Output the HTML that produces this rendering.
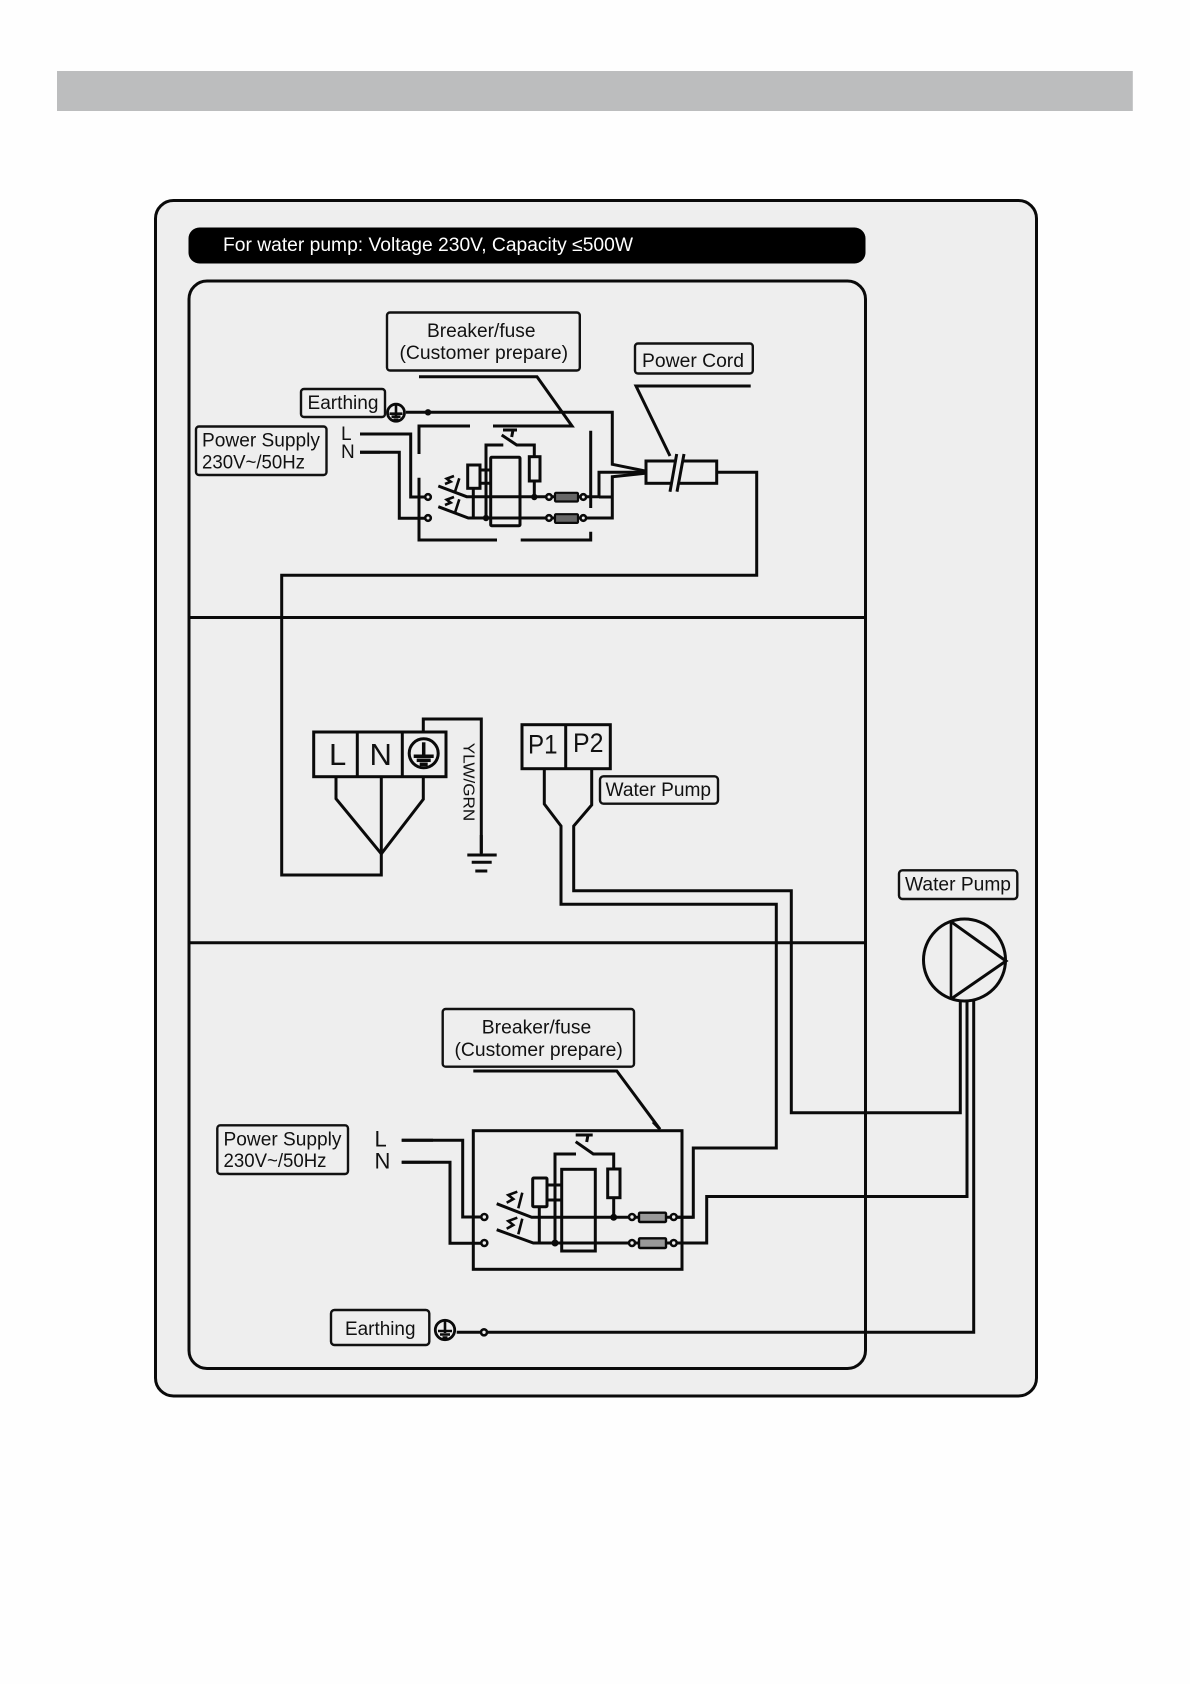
<!DOCTYPE html>
<html><head><meta charset="utf-8"><style>
html,body{margin:0;padding:0;background:#fefefe}
svg{display:block}
text{font-family:"Liberation Sans",sans-serif;font-size:19px;fill:#111}
.w{fill:none;stroke:#0a0a0a;stroke-width:3;stroke-linejoin:miter}
.t{fill:none;stroke:#0a0a0a;stroke-width:2.6}
.b{fill:none;stroke:#111;stroke-width:2.4}
.h{fill:#eee;stroke:#0a0a0a;stroke-width:2.6}
.d{fill:#0a0a0a}
</style></head><body>
<svg width="1190" height="1684" viewBox="0 0 1190 1684" xmlns="http://www.w3.org/2000/svg">
<rect x="57" y="71" width="1075.800" height="40" fill="#bcbdbe"/>
<rect x="155.5" y="200.5" width="881" height="1195.5" rx="18" fill="#eee" stroke="#0a0a0a" stroke-width="3"/>
<rect x="188.5" y="227.5" width="677" height="36" rx="11" fill="#000"/>
<text x="223" y="251" textLength="410" lengthAdjust="spacingAndGlyphs" style="fill:#fff">For water pump: Voltage 230V, Capacity ≤500W</text>
<rect x="189" y="281" width="676.5" height="1087.5" rx="18" fill="none" stroke="#0a0a0a" stroke-width="3"/>
<path d="M189 617.500H865.500M189 942.800H865.500" class="w"/>

<!-- top section labels -->
<rect x="387" y="312.500" width="192.800" height="58" rx="3" class="b"/>
<text x="427" y="337" textLength="108.5" lengthAdjust="spacingAndGlyphs">Breaker/fuse</text>
<text x="399.500" y="359" textLength="168.500" lengthAdjust="spacingAndGlyphs">(Customer prepare)</text>
<rect x="635" y="343.500" width="117.800" height="30" rx="3" class="b"/>
<text x="642" y="367" textLength="102" lengthAdjust="spacingAndGlyphs">Power Cord</text>
<rect x="301" y="389" width="84" height="28" rx="3" class="b"/>
<text x="307.500" y="409" textLength="71" lengthAdjust="spacingAndGlyphs">Earthing</text>
<rect x="196" y="426.5" width="130.500" height="48.500" rx="3" class="b"/>
<text x="202" y="446.5" textLength="118" lengthAdjust="spacingAndGlyphs">Power Supply</text>
<text x="202" y="468.500" textLength="103" lengthAdjust="spacingAndGlyphs">230V~/50Hz</text>
<text x="341" y="440">L</text>
<text x="341" y="458">N</text>

<!-- top earth -->
<g transform="translate(396,412.700)">
<circle r="8.500" fill="none" stroke="#0a0a0a" stroke-width="2.800"/>
<path d="M0 -8V3M-6.500 1H6.500M-4.500 4H4.500M-2.500 7H2.500" class="t" stroke-width="2"/>
</g>
<path d="M406 412.300H612.300V464.300L645 471M599 497H612" class="w" stroke-width="2.800"/>
<circle cx="428" cy="412.300" r="3.200" class="d"/>

<!-- top dashed breaker -->
<path d="M419 376.700H537L572 426H493M470 426H419V454M419 477.700V540H497M520.700 540H590.700V531.700M590.700 430.700V508" class="w"/>
<path d="M360 434H410.700V497H428M360 452.300H399.300V518.300H428" class="w"/>
<path d="M360 434H385M360 452.300H380" class="w" stroke-width="4"/>

<!-- top internals -->
<path d="M438.300 486L466.700 496.700H599V472.300H645" class="w"/>
<path d="M438.300 506.700L468.300 518H612.300V476.700L645 473.300" class="w"/>
<path d="M454 476L446.700 478.700L450.700 481.700L445 484M459.300 478.300L455 491.700" class="t"/>
<path d="M454 497L446.700 499.700L450.700 502.700L445 505M459.300 499.300L455 512.700" class="t"/>
<rect x="467.700" y="465" width="12.300" height="23.300" class="w"/>
<path d="M480 470H490.700M480 483.300H490.700M473.300 488.300V518" class="w"/>
<path d="M486 518V445H503.300M501.700 435L516.700 445H534.300V456.700M503 430H517M513 430L511.700 437" class="w"/>
<rect x="490.700" y="457.300" width="29.300" height="68.400" rx="1" class="w"/>
<rect x="529.300" y="456.700" width="10.700" height="24.300" class="w"/>
<path d="M534.300 481V497" class="w"/>
<circle cx="534.300" cy="497" r="3.200" class="d"/>
<circle cx="486" cy="518" r="3.200" class="d"/>
<rect x="555" y="492.800" width="23" height="8.700" rx="1" fill="#666" stroke="#0a0a0a" stroke-width="2.200"/>
<rect x="555" y="514.200" width="23" height="8.700" rx="1" fill="#666" stroke="#0a0a0a" stroke-width="2.200"/>
<g class="h">
<circle cx="428" cy="497" r="2.800"/><circle cx="428" cy="518" r="2.800"/>
<circle cx="549" cy="497" r="2.800"/><circle cx="549" cy="518" r="2.800"/>
<circle cx="583.300" cy="497" r="2.800"/><circle cx="583.300" cy="518" r="2.800"/>
</g>

<!-- power cord -->
<path d="M750.700 386H636L670 456" class="w" stroke-width="2.800"/>
<rect x="646" y="461" width="70.700" height="22.300" class="w"/>
<path d="M671 491.700L678 454H684.500L677.500 491.700Z" fill="#eee"/>
<path d="M670 491.700L676.700 454M677 491.700L684 454" class="w"/>
<path d="M716.700 472.300H756.700V575.300H281.700V875H381.300V776" class="w"/>

<!-- middle -->
<rect x="313.700" y="732" width="132.300" height="44.700" class="w"/>
<path d="M357.300 732V776.700M402.300 732V776.700" class="w"/>
<text x="329" y="765" style="font-size:31px">L</text>
<text x="369.500" y="765" style="font-size:31px">N</text>
<g transform="translate(423.700,753.300)">
<circle r="14.500" fill="none" stroke="#0a0a0a" stroke-width="3"/>
<path d="M0 -11V4" stroke="#0a0a0a" stroke-width="3.500"/>
<path d="M-10 3H10" stroke="#0a0a0a" stroke-width="3.500"/>
<path d="M-7 7H7" stroke="#0a0a0a" stroke-width="3.500"/>
<path d="M-4 11H4" stroke="#0a0a0a" stroke-width="3.500"/>
</g>
<path d="M336 776.700V798.700L381.300 853.800M423.300 776.700V799.300L381.300 853.800" class="w"/>
<path d="M423.300 732V719H481.300V853" class="w" stroke-width="2.400"/>
<path d="M481.300 835V855" class="w" stroke-width="5"/>
<path d="M467.300 855H496.700M471.700 862.300H491.700M475.300 871H487.300" class="w" stroke-width="4"/>
<text transform="translate(463.500,742.700) rotate(90)" textLength="78.500" lengthAdjust="spacingAndGlyphs" style="font-size:16px">YLW/GRN</text>

<rect x="522" y="724.700" width="88.300" height="44" class="w"/>
<path d="M565.700 724.700V768.700" class="w"/>
<text x="528" y="753.500" textLength="29.500" lengthAdjust="spacingAndGlyphs" style="font-size:27px">P1</text>
<text x="573" y="752" textLength="30.500" lengthAdjust="spacingAndGlyphs" style="font-size:27px">P2</text>
<path d="M544.300 768.700V804L561 826V904.300H776.300V1148H693.300V1217.300H673" class="w"/>
<path d="M591.700 768.700V805L573.700 826V890.700H791.300V1112.800H960.300V1001" class="w"/>
<rect x="600" y="776.300" width="118" height="27.400" rx="3.500" class="b"/>
<text x="605.500" y="796" textLength="105.500" lengthAdjust="spacingAndGlyphs">Water Pump</text>

<!-- pump -->
<rect x="899" y="870.300" width="118.300" height="28.700" rx="3.500" class="b"/>
<text x="905" y="890.700" textLength="106" lengthAdjust="spacingAndGlyphs">Water Pump</text>
<circle cx="964.500" cy="960" r="41" fill="none" stroke="#0a0a0a" stroke-width="3"/>
<path d="M951 999L1006 961L951 921.700" class="w"/>
<path d="M951 921.700V999" class="t"/>
<path d="M967 1001V1196.500H706.700V1243H673" class="w"/>
<path d="M973.700 1001V1332.300H456.700" class="w"/>

<!-- bottom section -->
<rect x="442.700" y="1009" width="191.300" height="57.700" rx="3" class="b"/>
<text x="481.800" y="1033.500" textLength="109.500" lengthAdjust="spacingAndGlyphs">Breaker/fuse</text>
<text x="454.500" y="1056" textLength="168.300" lengthAdjust="spacingAndGlyphs">(Customer prepare)</text>
<path d="M473.300 1071H616.800L660 1129.300" class="w"/>
<path d="M653 1122L660 1129.300" class="w" stroke-width="4.500"/>
<rect x="217.300" y="1125.300" width="130.700" height="48.700" rx="3" class="b"/>
<text x="223.500" y="1145.700" textLength="118" lengthAdjust="spacingAndGlyphs">Power Supply</text>
<text x="223.500" y="1167" textLength="103" lengthAdjust="spacingAndGlyphs">230V~/50Hz</text>
<text x="374.500" y="1146.700" style="font-size:22px">L</text>
<text x="374.500" y="1168.300" style="font-size:22px">N</text>
<path d="M401.700 1140.300H462.700V1217H484.300M401.700 1162.300H450V1243.300H484.300" class="w"/>
<path d="M401.700 1140.300H433M401.700 1162.300H430" class="w" stroke-width="4.500"/>
<rect x="473.300" y="1130.700" width="208.700" height="138.600" class="w"/>
<path d="M496.700 1203.700L531.700 1217.300H693.300M496.700 1229.700L533.300 1243H706.700" class="w"/>
<path d="M517.300 1191.700L508.300 1195L513.300 1199L506.700 1202.700M522.300 1192.700L518.300 1208.300M517.300 1217.700L508.300 1221L513.300 1225L506.700 1228.700M522.300 1218.700L518.300 1234.300" class="t"/>
<rect x="532.700" y="1178" width="14.300" height="28.700" rx="1" class="w"/>
<path d="M547 1185H561.700M547 1200H561.700M539.300 1206.700V1243" class="w"/>
<path d="M555 1243V1154H576M575.700 1141.700L593.300 1154H613.700V1169M575.700 1135H592.700M588 1135L586.700 1142" class="w"/>
<rect x="561.700" y="1169.300" width="33.600" height="81.700" class="w"/>
<rect x="607.700" y="1169" width="12.300" height="28.700" class="w"/>
<path d="M613.700 1197.700V1217" class="w"/>
<circle cx="613.700" cy="1217.300" r="3.500" class="d"/>
<circle cx="555" cy="1243" r="3.500" class="d"/>
<rect x="639" y="1212.700" width="27" height="9.300" rx="1" fill="#999" stroke="#0a0a0a" stroke-width="2.400"/>
<rect x="639" y="1238.300" width="27" height="9.700" rx="1" fill="#999" stroke="#0a0a0a" stroke-width="2.400"/>
<g class="h">
<circle cx="484.300" cy="1217" r="3"/><circle cx="484.300" cy="1243" r="3"/>
<circle cx="632" cy="1217" r="3"/><circle cx="632" cy="1243" r="3"/>
<circle cx="673.700" cy="1217" r="3"/><circle cx="673.700" cy="1243" r="3"/>
</g>

<rect x="331" y="1310" width="98.300" height="35" rx="3.500" class="b"/>
<text x="345" y="1335" textLength="70.500" lengthAdjust="spacingAndGlyphs">Earthing</text>
<g transform="translate(445,1330)">
<circle r="9.700" fill="none" stroke="#0a0a0a" stroke-width="2.800"/>
<path d="M0 -9V3M-7 1H7M-5 4.500H5M-2.500 7.500H2.500" class="t" stroke-width="2"/>
</g>
<circle cx="484" cy="1332.300" r="3" class="h"/>
</svg>
</body></html>
